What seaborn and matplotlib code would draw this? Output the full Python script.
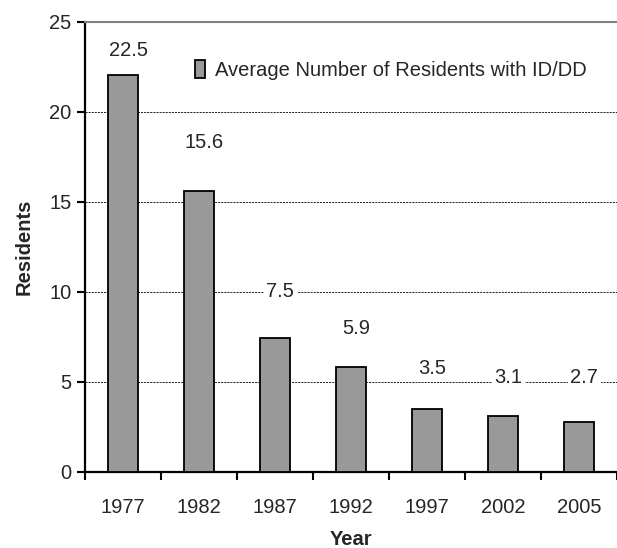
import seaborn as sns
import matplotlib.pyplot as plt
from matplotlib.ticker import FixedLocator

# values
years = ['1977', '1982', '1987', '1992', '1997', '2002', '2005']
bar_heights = [22.05, 15.6, 7.45, 5.8, 3.5, 3.1, 2.75]
value_labels = ['22.5', '15.6', '7.5', '5.9', '3.5', '3.1', '2.7']
label_y = [23.4, 18.3, 10.0, 7.95, 5.75, 5.25, 5.25]
series_name = 'Average Number of Residents with ID/DD'

sns.set_style('white')
plt.rcParams['font.family'] = ['Liberation Sans', 'DejaVu Sans']

fig = plt.figure(figsize=(6.17, 5.48), dpi=100)
ax = fig.add_axes([0.138, 0.139, 0.862, 0.821])

sns.barplot(x=years, y=bar_heights, color='#999999', edgecolor='black',
            linewidth=1.3, width=0.4, saturation=1, label=series_name, ax=ax,
            zorder=3)

ax.set_xlim(-0.5, 6.5)
ax.set_ylim(0, 25)
ax.set_yticks([0, 5, 10, 15, 20, 25])
ax.yaxis.grid(True, color='black', linestyle=(0, (2.5, 1.2)), linewidth=0.6)
ax.set_axisbelow(True)

# x ticks at category boundaries
ax.xaxis.set_minor_locator(FixedLocator([i - 0.5 for i in range(8)]))
ax.tick_params(axis='x', which='minor', bottom=True, length=6, width=1.5,
               color='black', direction='out')
ax.tick_params(axis='x', which='major', length=0, pad=19, labelsize=14.5)
ax.tick_params(axis='y', left=True, length=6, width=1.5, color='black',
               direction='out', pad=4, labelsize=14.5)

for s in ['left', 'bottom']:
    ax.spines[s].set_color('black')
    ax.spines[s].set_linewidth(1.6)
ax.spines['top'].set_color('#808080')
ax.spines['top'].set_linewidth(1.5)
ax.spines['right'].set_visible(False)

for i, (lab, y) in enumerate(zip(value_labels, label_y)):
    ax.text(i + 0.07, y, lab, ha='center', va='center', fontsize=14.5,
            zorder=4, bbox=dict(facecolor='white', edgecolor='none', pad=2))

ax.set_xlabel('Year', fontsize=14.5, fontweight='bold', labelpad=9)
ax.set_ylabel('Residents', fontsize=14.5, fontweight='bold', labelpad=11)

ax.legend(loc='center left', bbox_to_anchor=(0.172, 0.893), frameon=False,
          fontsize=14.5, handlelength=0.5, handleheight=1.0, handletextpad=0.5)

fig.savefig('out.png', dpi=100)
